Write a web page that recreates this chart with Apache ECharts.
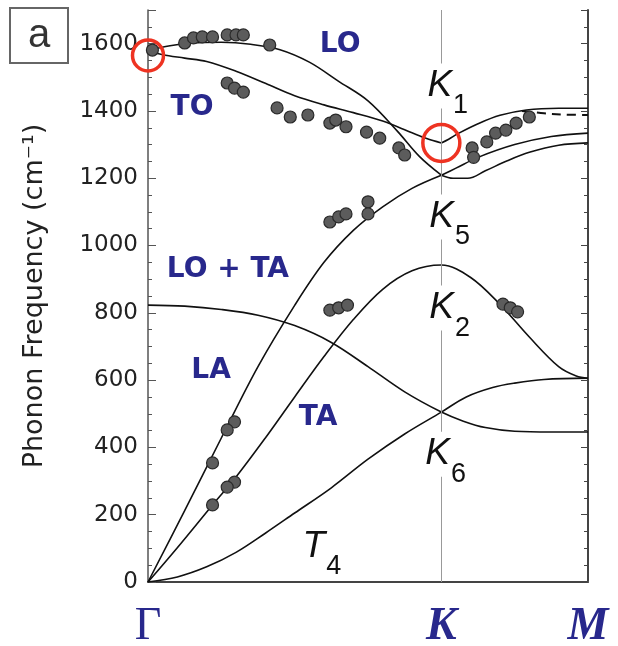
<!DOCTYPE html>
<html><head><meta charset="utf-8">
<script src="https://cdn.jsdelivr.net/npm/echarts@6/dist/echarts.min.js"></script>
<style>html,body{margin:0;padding:0;background:#fff}#c{width:618px;height:646px}</style>
</head><body><div id="c"></div>
<script>
// Path coordinate: Γ = 0, K = 2, M = 3 ; frequencies in cm^-1
const pathTicks = [0, 2, 3];
const pathNames = ['Γ', 'K', 'M'];
const yTicks = [0, 200, 400, 600, 800, 1000, 1200, 1400, 1600];

// calculated branches
const loGK = [[0,1580],[0.15,1594],[0.3,1602],[0.5,1604],[0.7,1598],[0.9,1582],[1.1,1545],[1.3,1488],[1.5,1430],[1.7,1340],[1.85,1265],[2,1209]];
const toGK = [[0,1578],[0.1,1567],[0.25,1557],[0.4,1547],[0.6,1518],[0.8,1482],[1.0,1445],[1.2,1418],[1.4,1395],[1.6,1370],[1.8,1335],[1.9,1318],[2,1305]];
const toKM = [[2,1305],[2.05,1316],[2.12,1334],[2.25,1362],[2.4,1387],[2.58,1403],[2.8,1408],[3,1408]];
const toKMdash = [[2.55,1400],[2.7,1393],[2.85,1389],[3,1388]];
const laGK = [[0,0],[0.25,212],[0.5,428],[0.75,640],[1.0,822],[1.2,950],[1.4,1045],[1.6,1115],[1.8,1170],[2,1209]];
const loKM = [[2,1209],[2.1,1230],[2.25,1262],[2.5,1300],[2.75,1324],[3,1334]];
const laKM = [[2,1209],[2.08,1200],[2.18,1200],[2.3,1222],[2.45,1252],[2.6,1277],[2.8,1298],[3,1305]];
const taAll = [[0,0],[0.2,102],[0.44,229],[0.6,312],[0.8,428],[1.0,550],[1.2,670],[1.4,780],[1.6,870],[1.8,925],[2,942],[2.2,905],[2.4,825],[2.6,728],[2.8,640],[2.92,612],[3,605]];
const zoAll = [[0,823],[0.25,820],[0.5,810],[0.75,793],[1.0,762],[1.25,712],[1.5,640],[1.75,565],[2,505],[2.15,478],[2.3,459],[2.5,448],[2.75,446],[3,446]];
const zaAll = [[0,0],[0.2,15],[0.4,45],[0.6,88],[0.8,145],[1.0,205],[1.25,280],[1.5,365],[1.75,440],[2,505],[2.17,550],[2.35,578],[2.5,591],[2.7,602],[3,606]];

// experimental points
const expX = [0.03,0.25,0.31,0.37,0.44,0.54,0.6,0.65,0.83,
  0.54,0.59,0.65,0.88,0.97,1.09,1.24,1.28,1.35,1.49,1.58,1.71,1.75,
  2.21,2.22,2.31,2.37,2.44,2.51,2.6,
  1.24,1.3,1.35,1.5,1.5,
  1.24,1.3,1.36,2.42,2.47,2.52,
  0.59,0.54,0.44,0.59,0.54,0.44];
const expY = [1581,1602,1617,1620,1620,1626,1626,1626,1596,
  1483,1468,1456,1409,1382,1388,1364,1373,1353,1337,1319,1290,1269,
  1290,1262,1308,1334,1343,1364,1382,
  1070,1085,1094,1130,1094,
  808,815,823,826,815,803,
  476,452,354,297,282,229];

// highlighted points (red circles)
const ringX = [0, 2];
const ringY = [1565, 1305];
const ringSize = [31, 37];

// branch labels
const bandNames = ['LO', 'TO', 'LO + TA', 'LA', 'TA'];
const bandX = [1.31, 0.30, 0.545, 0.43, 1.16];
const bandY = [1596, 1409, 928, 627, 487];

// symmetry labels
const symLetter = ['K', 'K', 'K', 'K', 'T'];
const symSub = ['1', '5', '2', '6', '4'];
const symX = [1.905, 1.918, 1.918, 1.891, 1.054];
const symY = [1474, 1085, 814, 380, 105];

const blue = '#28288c';
const chart = echarts.init(document.getElementById('c'));
const lineS = (data, extra) => Object.assign({
  type: 'line', data, smooth: 0.35, showSymbol: false, symbol: 'none', z: 3,
  lineStyle: { color: '#111', width: 1.6 }, silent: true
}, extra || {});

const yCommon = { type: 'value', min: 0, max: 1700, splitLine: { show: false } };
chart.setOption({
  animation: false,
  grid: { left: 148, right: 30, top: 10, bottom: 64, containLabel: false, outerBoundsMode: 'none' },
  xAxis: [
    { type: 'value', min: 0, max: 3, interval: 1, position: 'bottom',
      axisLine: { lineStyle: { color: '#aaa', width: 2 } }, axisTick: { show: false }, splitLine: { show: false },
      axisLabel: { margin: 22, formatter: v => { const i = pathTicks.indexOf(v); return i < 0 ? '' : (i === 0 ? '{g|' + pathNames[i] + '}' : '{k|' + pathNames[i] + '}'); },
        rich: { g: { fontFamily: 'Liberation Serif', fontSize: 46, color: blue },
                k: { fontFamily: 'Liberation Serif', fontSize: 46, fontStyle: 'italic', fontWeight: 'bold', color: blue } } } },
    { type: 'value', min: 0, max: 3, position: 'top', axisLine: { lineStyle: { color: '#444', width: 2 } },
      axisTick: { show: false }, axisLabel: { show: false }, splitLine: { show: false } }
  ],
  yAxis: [
    Object.assign({}, yCommon, { position: 'left', interval: 50,
      name: 'Phonon Frequency (cm⁻¹)', nameLocation: 'middle', nameGap: 100,
      nameTextStyle: { fontFamily: 'DejaVu Sans', fontSize: 27, color: '#222' },
      axisLine: { show: true, lineStyle: { color: '#555', width: 1.5 } },
      axisTick: { inside: true, length: 4, lineStyle: { color: '#555' } },
      axisLabel: { margin: 10, fontFamily: 'DejaVu Sans', fontSize: 23, color: '#222', showMaxLabel: false,
        formatter: v => yTicks.includes(v) ? String(v) : '' } }),
    Object.assign({}, yCommon, { position: 'left', interval: 200,
      axisLine: { show: false }, axisTick: { inside: true, length: 8, lineStyle: { color: '#555' } }, axisLabel: { show: false } }),
    Object.assign({}, yCommon, { position: 'right', interval: 50,
      axisLine: { show: true, lineStyle: { color: '#444', width: 2 } }, axisTick: { inside: true, length: 4, lineStyle: { color: '#444' } }, axisLabel: { show: false } }),
    Object.assign({}, yCommon, { position: 'right', interval: 200,
      axisLine: { show: false }, axisTick: { inside: true, length: 7, lineStyle: { color: '#444' } }, axisLabel: { show: false } })
  ],
  series: [
    { type: 'line', data: [], z: 1, silent: true,
      markLine: { silent: true, symbol: 'none', label: { show: false }, lineStyle: { color: '#999', width: 1, type: 'solid' },
        data: [{ xAxis: pathTicks[1] }] } },
    lineS(loGK), lineS(toGK), lineS(toKM),
    lineS(toKMdash, { lineStyle: { color: '#111', width: 2, type: [9, 6] } }),
    lineS(laGK), lineS(loKM), lineS(laKM), lineS(taAll), lineS(zoAll), lineS(zaAll),
    { type: 'scatter', z: 5, clip: false, silent: true, symbolSize: 12,
      itemStyle: { color: '#5c5c5c', borderColor: '#2a2a2a', borderWidth: 1.2, opacity: 1 },
      data: expX.map((x, i) => [x, expY[i]]) },
    { type: 'scatter', z: 6, clip: false, silent: true,
      symbolSize: (v, p) => ringSize[p.dataIndex],
      itemStyle: { color: 'rgba(0,0,0,0)', borderColor: '#ee3322', borderWidth: 3.5, opacity: 1 },
      data: ringX.map((x, i) => [x, ringY[i]]) },
    { type: 'scatter', z: 8, clip: false, silent: true, symbolSize: 1, itemStyle: { color: 'rgba(0,0,0,0)', opacity: 1 },
      data: bandNames.map((n, i) => ({ value: [bandX[i], bandY[i]], name: n })),
      label: { show: true, position: 'inside', formatter: p => p.name, color: blue, opacity: 1,
        fontFamily: 'DejaVu Sans', fontWeight: 'bold', fontSize: 28 } },
    { type: 'scatter', z: 8, clip: false, silent: true, symbolSize: 1, itemStyle: { color: 'rgba(0,0,0,0)', opacity: 1 },
      data: symLetter.map((n, i) => ({ value: [symX[i], symY[i]], name: n + '|' + symSub[i] })),
      label: { show: true, position: 'inside', align: 'left', verticalAlign: 'middle', opacity: 1,
        formatter: p => { const s = p.name.split('|'); return '{k|' + s[0] + '}{s|' + s[1] + '}'; },
        rich: { k: { fontFamily: 'Liberation Sans', fontStyle: 'italic', fontSize: 37, color: '#111', backgroundColor: '#fff', padding: [4, 0, 4, 0] },
                s: { fontFamily: 'Liberation Sans', fontSize: 27, color: '#111', padding: [40, 0, 0, 1] } } } }
  ],
  graphic: [
    { type: 'rect', shape: { x: 10, y: 8, width: 58, height: 55 }, style: { fill: 'none', stroke: '#666', lineWidth: 2 } },
    { type: 'text', x: 39, y: 36, style: { text: 'a', fontFamily: 'Liberation Sans', fontSize: 40, fill: '#333', align: 'center', verticalAlign: 'middle' } }
  ]
});
</script></body></html>
